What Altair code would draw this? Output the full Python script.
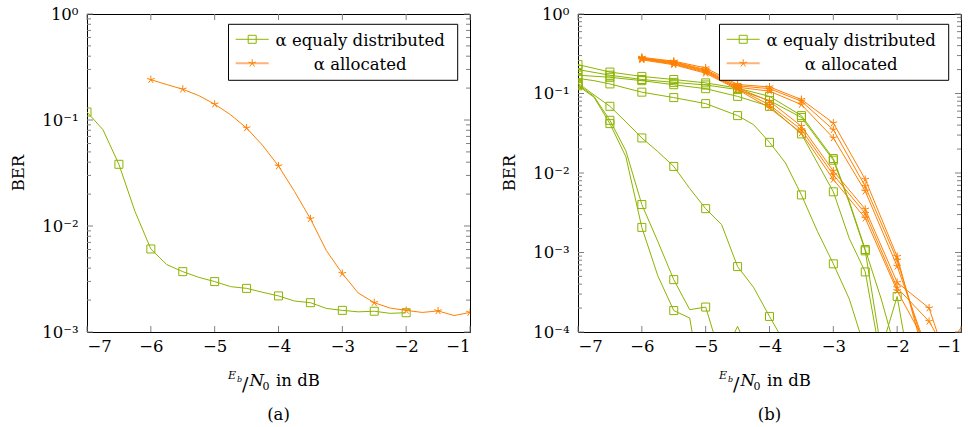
import altair as alt
import pandas as pd

FONT = "DejaVu Serif"
GREEN = "#8cb400"
ORANGE = "#ff8000"
ORANGE_LIGHT = "#ffb27a"

# x grid (Eb/N0 in dB), quarter-dB steps
X_GRID = [-7.0, -6.75, -6.5, -6.25, -6.0, -5.75, -5.5, -5.25, -5.0, -4.75, -4.5, -4.25,
          -4.0, -3.75, -3.5, -3.25, -3.0, -2.75, -2.5, -2.25, -2.0, -1.75, -1.5, -1.25, -1.0]
X_TICKS = [-7, -6, -5, -4, -3, -2, -1]
Y_MAJOR = [1e-4, 1e-3, 1e-2, 1e-1, 1.0]
Y_MINOR = [2e-4, 3e-4, 4e-4, 5e-4, 6e-4, 7e-4, 8e-4, 9e-4,
           2e-3, 3e-3, 4e-3, 5e-3, 6e-3, 7e-3, 8e-3, 9e-3,
           2e-2, 3e-2, 4e-2, 5e-2, 6e-2, 7e-2, 8e-2, 9e-2,
           0.2, 0.3, 0.4, 0.5, 0.6, 0.7, 0.8, 0.9]

# ---- panel (a) ----
A_EQUAL = [0.119, 0.081, 0.0382, 0.0138, 0.00607, 0.00432, 0.00371, 0.00328, 0.00299, 0.00268,
           0.00258, 0.00237, 0.00219, 0.00196, 0.00189, 0.00167, 0.00160, 0.00155, 0.00157,
           0.00150, 0.00152, None, None, None, None]
A_ALLOC = [None, None, None, None, 0.240, 0.216, 0.195, 0.170, 0.141, 0.112, 0.084, 0.0577,
           0.0368, 0.0212, 0.0117, 0.00586, 0.00356, 0.00233, 0.00189, 0.00168, 0.00160,
           0.00153, 0.00158, 0.00143, 0.00153]

# ---- panel (b): equally distributed ----
B_EQ1 = [0.231, None, 0.186, None, 0.164, None, 0.15, None, 0.136, None, 0.117, None, 0.092,
         None, 0.0527, None, 0.0152, 0.0044, 0.00109, 0.00026, 5e-5, None, None, None, None]
B_EQ2 = [0.2, None, 0.17, None, 0.15, None, 0.138, None, 0.128, None, 0.112, None, 0.0814,
         None, 0.05, None, 0.0145, 0.0042, 0.00105, 6e-5, 0.00028, 2e-5, None, None, None]
B_EQ3 = [0.17, None, 0.16, None, 0.145, None, 0.129, None, 0.115, None, 0.092, None, 0.069,
         None, 0.031, None, 0.0058, 0.0015, 0.00057, 4.3e-5, None, None, None, None, None]
B_EQ4 = [0.155, 0.145, 0.132, 0.117, 0.104, None, 0.0888, None, 0.0746, None, 0.0527, 0.0406,
         0.0243, 0.0134, 0.0053, 0.00185, 0.00072, 0.00026, 6e-5, None, None, None, None, None, None]
B_EQ5 = [0.135, 0.096, 0.069, 0.044, 0.0276, 0.0186, 0.0121, 0.0064, 0.00356, 0.00224, 0.000665,
         0.000365, 0.000157, 7e-5, None, None, None, None, None, None, None, None, None, None, None]
B_EQ6 = [0.13, 0.092, 0.046, 0.019, 0.00401, 0.00138, 0.000456, 0.000191, 0.000206, 4.5e-5,
         0.000118, 4e-5, None, None, None, None, None, None, None, None, None, None, None, None, None]
B_EQ7 = [0.125, 0.09, 0.0418, 0.016, 0.00207, 0.00051, 0.000186, 0.00015, 1e-5, None, None, None,
         None, None, None, None, None, None, None, None, None, None, None, None, None]

# ---- panel (b): allocated ----
B_AL1 = [None, None, None, None, 0.285, None, 0.255, None, 0.21, None, 0.13, None, 0.121, None,
         0.084, None, 0.0425, None, 0.0083, None, 0.00089, None, 3e-5, None, None]
B_AL2 = [None, None, None, None, 0.28, None, 0.25, None, 0.2, None, 0.125, None, 0.115, None,
         0.08, None, 0.035, None, 0.0068, None, 0.0008, None, 4e-5, None, None]
B_AL3 = [None, None, None, None, 0.275, None, 0.245, None, 0.195, None, 0.12, None, 0.107, None,
         0.0726, None, 0.0276, None, 0.0059, None, 0.00067, None, 5e-5, None, None]
B_AL4 = [None, None, None, None, 0.275, None, 0.24, None, 0.19, None, 0.118, None, 0.08, None,
         0.0387, None, 0.0106, None, 0.0035, None, 0.00042, None, 0.0002, 5e-5, None]
B_AL5 = [None, None, None, None, 0.27, None, 0.235, None, 0.185, None, 0.115, None, 0.072, None,
         0.035, None, 0.0095, None, 0.0031, None, 0.00036, None, 0.000136, 6e-5, 0.000113]
B_AL6 = [None, None, None, None, 0.265, None, 0.23, None, 0.18, None, 0.112, None, 0.066, None,
         0.0318, None, 0.0083, None, 0.0027, None, 0.00033, None, 6e-5, None, None]

LABEL_EQ = "α equaly distributed"
LABEL_AL = "α allocated"

STAR = "M0,0L0,-1M0,0L0.951,-0.309M0,0L0.588,0.809M0,0L-0.588,0.809M0,0L-0.951,-0.309"

W, H = 383, 318
FS = 16.5
ONE = pd.DataFrame({"k": [0]})


def long_df(series):
    rows = []
    for name, vals in series.items():
        for x, v in zip(X_GRID, vals):
            if v is not None:
                marked = abs(x * 2 - round(x * 2)) < 1e-9 and v >= 1.2e-4
                rows.append({"x": x, "y": v, "s": name, "m": marked})
    return pd.DataFrame(rows)


def txt(text, x, y, size=FS, style="normal", align="left", baseline="alphabetic", angle=0):
    return alt.Chart(ONE).mark_text(
        text=text, font=FONT, fontSize=size, fontStyle=style, align=align,
        baseline=baseline, angle=angle, color="black"
    ).encode(x=alt.value(x), y=alt.value(y))


def panel(green, orange, ymin, caption):
    xscale = alt.Scale(domain=[-7, -1], nice=False, zero=False)
    yscale = alt.Scale(type="log", domain=[ymin, 1], nice=False)
    xaxis = alt.Axis(values=X_TICKS, title=None, grid=False, domain=False, ticks=False,
                     tickSize=0, labelPadding=6, labelFont=FONT, labelFontSize=FS,
                     labelColor="black", labelBaseline="top")
    yaxis = alt.Axis(values=[v for v in Y_MAJOR if v >= ymin], title=None, grid=False,
                     domain=False, ticks=False, tickSize=0, labelPadding=9, labelFont=FONT,
                     labelFontSize=FS, labelColor="black",
                     labelExpr="datum.value > 0.5 ? '10⁰' : datum.value > 0.05 ? '10⁻¹' : "
                               "datum.value > 0.005 ? '10⁻²' : datum.value > 0.0005 ? '10⁻³' : '10⁻⁴'")
    X = alt.X("x:Q", scale=xscale, axis=xaxis)
    Y = alt.Y("y:Q", scale=yscale, axis=yaxis)

    gdf = long_df(green)
    odf = long_df(orange)

    layers = []
    # ticks (inside)
    ymaj = pd.DataFrame({"y": [v for v in Y_MAJOR if v >= ymin]})
    ymin_df = pd.DataFrame({"y": [v for v in Y_MINOR if v >= ymin]})
    xt = pd.DataFrame({"x": X_TICKS})
    tick_color = "#808080"
    layers.append(alt.Chart(ymaj).mark_rule(color=tick_color, strokeWidth=1).encode(
        y=Y, x=alt.value(0), x2=alt.value(6)))
    layers.append(alt.Chart(ymaj).mark_rule(color=tick_color, strokeWidth=1).encode(
        y=Y, x=alt.value(W - 6), x2=alt.value(W)))
    layers.append(alt.Chart(ymin_df).mark_rule(color=tick_color, strokeWidth=1).encode(
        y=Y, x=alt.value(0), x2=alt.value(4)))
    layers.append(alt.Chart(ymin_df).mark_rule(color=tick_color, strokeWidth=1).encode(
        y=Y, x=alt.value(W - 4), x2=alt.value(W)))
    layers.append(alt.Chart(xt).mark_rule(color=tick_color, strokeWidth=1).encode(
        x=X, y=alt.value(H - 6), y2=alt.value(H)))
    layers.append(alt.Chart(xt).mark_rule(color=tick_color, strokeWidth=1).encode(
        x=X, y=alt.value(0), y2=alt.value(6)))

    # data
    layers.append(alt.Chart(gdf).mark_line(color=GREEN, strokeWidth=1, clip=True).encode(
        x=X, y=Y, detail="s:N", order="x:Q"))
    layers.append(alt.Chart(gdf).transform_filter("datum.m").mark_point(
        shape="square", size=64, filled=False, color=GREEN, strokeWidth=1, opacity=1,
        clip=True).encode(x=X, y=Y))
    layers.append(alt.Chart(odf).mark_line(color=ORANGE, strokeWidth=1, clip=True).encode(
        x=X, y=Y, detail="s:N", order="x:Q"))
    layers.append(alt.Chart(odf).transform_filter("datum.m").mark_point(
        shape=STAR, size=64, filled=False, color=ORANGE, strokeWidth=1, opacity=1,
        clip=True).encode(x=X, y=Y))

    # legend
    layers.append(alt.Chart(ONE).mark_rect(fill="white", stroke="black", strokeWidth=1).encode(
        x=alt.value(141.5), x2=alt.value(370.7), y=alt.value(10.3), y2=alt.value(66.3)))
    layers.append(alt.Chart(ONE).mark_rule(color=GREEN, strokeWidth=1).encode(
        x=alt.value(148.7), x2=alt.value(181.7), y=alt.value(25.3)))
    layers.append(alt.Chart(ONE).mark_point(shape="square", size=64, filled=False, color=GREEN,
                                            strokeWidth=1, opacity=1).encode(
        x=alt.value(165.2), y=alt.value(25.3)))
    layers.append(alt.Chart(ONE).mark_rule(color=ORANGE_LIGHT, strokeWidth=2).encode(
        x=alt.value(148.7), x2=alt.value(181.7), y=alt.value(49.3)))
    layers.append(alt.Chart(ONE).mark_point(shape=STAR, size=64, filled=False, color=ORANGE,
                                            strokeWidth=1, opacity=1).encode(
        x=alt.value(165.2), y=alt.value(49.3)))
    layers.append(txt(LABEL_EQ, 273.2, 31.6, align="center"))
    layers.append(txt(LABEL_AL, 273.2, 55.6, align="center"))

    # axis titles and caption
    layers.append(txt("BER", -68, H / 2, align="center", baseline="middle", angle=270))
    layers.append(txt("E", 141, 364.6, size=11, style="italic"))
    layers.append(txt("b", 150, 367.5, size=8, style="italic"))
    layers.append(txt("/", 155, 376.5, size=19))
    layers.append(txt("N", 162.5, 372.3, size=FS, style="italic"))
    layers.append(txt("0", 175.5, 376, size=11))
    layers.append(txt("in dB", 189, 372.3))
    layers.append(txt(caption, W / 2, 400.8, align="center", baseline="middle"))

    return alt.layer(*layers).properties(width=W, height=H)


left = panel({"eq": A_EQUAL}, {"al": A_ALLOC}, 1e-3, "(a)")
right = panel({"e1": B_EQ1, "e2": B_EQ2, "e3": B_EQ3, "e4": B_EQ4, "e5": B_EQ5, "e6": B_EQ6,
               "e7": B_EQ7},
              {"a1": B_AL1, "a2": B_AL2, "a3": B_AL3, "a4": B_AL4, "a5": B_AL5, "a6": B_AL6},
              1e-4, "(b)")

chart = alt.hconcat(left, right, spacing=108, bounds="flush").properties(
    padding={"left": 10, "top": 5, "right": 0, "bottom": 0}
).configure_view(stroke="black", strokeWidth=1)

chart.save("out.html", embed_options={"renderer": "svg", "actions": False})
